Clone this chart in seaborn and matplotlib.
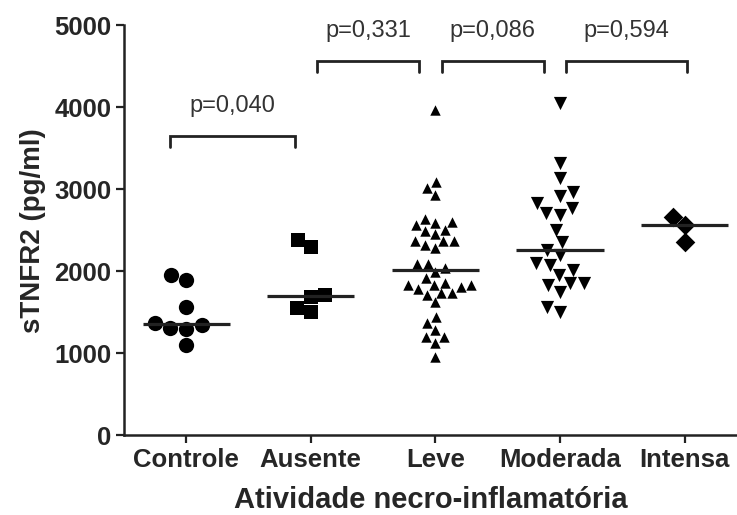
import numpy as np
import pandas as pd
import seaborn as sns
from matplotlib import pyplot as plt


# values (pg/ml)
groups = ['Controle', 'Ausente', 'Leve', 'Moderada', 'Intensa']

controle = [1890, 1950, 1560, 1305, 1366, 1340, 1290, 1100]
ausente = [2378, 2293, 1683, 1707, 1500, 1549]
leve = [3963, 3085, 2927, 3012,
        2585, 2561, 2488, 2500, 2451, 2598, 2634,
        2366, 2366, 2280, 2317, 2366,
        2037, 2085, 2085, 1988,
        1915, 1829, 1805, 1829, 1829, 1854, 1732, 1707, 1622, 1732, 1780,
        1366, 1439, 1280, 1195, 1195, 1122, 951]
moderada = [4049, 3317, 3134, 2963, 2915, 2768, 2829, 2707, 2683, 2500,
            2354, 2260, 2195, 2073, 2012, 2098, 1951, 1854, 1829, 1854,
            1744, 1561, 1500]
intensa = [2659, 2561, 2354]

# p-value comparisons: (left, right, p)
p_pairs = [('Controle', 'Ausente', 'p=0,040'),
           ('Ausente', 'Leve', 'p=0,331'),
           ('Leve', 'Moderada', 'p=0,086'),
           ('Moderada', 'Intensa', 'p=0,594')]

values = [controle, ausente, leve, moderada, intensa]
df = pd.DataFrame({'grupo': np.repeat(groups, [len(v) for v in values]),
                   'stnfr2': np.concatenate(values)})


##
# plot
##
sns.set_style('ticks')
plt.rcParams['font.family'] = ['Liberation Sans', 'DejaVu Sans']

fig = plt.figure(figsize=(7.37, 5.15), dpi=100)
ax = fig.add_axes([0.168, 0.155, 0.832, 0.796])

markers = {'Controle': 'o', 'Ausente': 's', 'Leve': '^', 'Moderada': 'v', 'Intensa': 'D'}
sizes = {'Controle': 11, 'Ausente': 10, 'Leve': 7.5, 'Moderada': 9.5, 'Intensa': 10}

for g in groups:
    sns.swarmplot(data=df[df['grupo'] == g], x='grupo', y='stnfr2', order=groups,
                  color='black', marker=markers[g], size=sizes[g], linewidth=0,
                  warn_thresh=1, ax=ax)

# median lines
medians = df.groupby('grupo')['stnfr2'].median().reindex(groups)
for i, m in enumerate(medians):
    ax.hlines(m, i - 0.35, i + 0.35, color='#222222', lw=2.3, zorder=5)

# brackets with p values
bracket_y = [3646, 4561, 4561, 4561]
for (a, b, p), yb in zip(p_pairs, bracket_y):
    i, j = groups.index(a), groups.index(b)
    x0 = i + (-0.13 if i == 0 else 0.05)
    x1 = j + (-0.13 if j < 4 else 0.02)
    ax.plot([x0, x0, x1, x1], [yb - 130, yb, yb, yb - 130], color='#222222', lw=2,
            solid_joinstyle='miter', clip_on=False)
    ax.text((x0 + x1) / 2, yb + 230, p, ha='center', va='bottom', fontsize=17,
            color='#333333', clip_on=False)

ax.set_ylim(0, 5000)
ax.set_xlim(-0.5, 4.42)
ax.set_yticks(range(0, 5001, 1000))
ax.set_xlabel('Atividade necro-inflamatória', fontsize=21, fontweight='bold', labelpad=10)
ax.set_ylabel('sTNFR2 (pg/ml)', fontsize=20, fontweight='bold', labelpad=6)
for lab in ax.get_xticklabels() + ax.get_yticklabels():
    lab.set_fontweight('bold')
ax.tick_params(axis='both', labelsize=18.5, width=1.6, length=6, color='#222222', pad=3)
sns.despine(ax=ax)
for s in ['left', 'bottom']:
    ax.spines[s].set_linewidth(1.8)
    ax.spines[s].set_color('#222222')

plt.savefig('out.png', dpi=100)
